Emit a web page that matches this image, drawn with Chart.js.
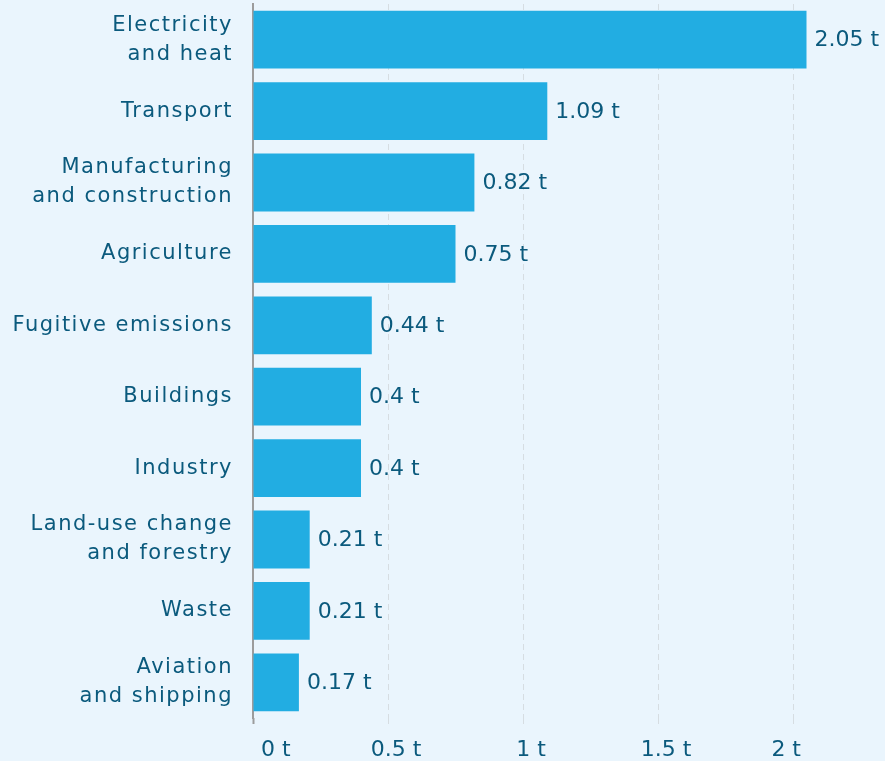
<!DOCTYPE html>
<html>
<head>
<meta charset="utf-8">
<script src="https://cdn.jsdelivr.net/npm/chart.js@4"></script>
<style>
  body { margin: 0; background: #eaf5fd; }
  #wrap { width: 885px; height: 761px; }
</style>
</head>
<body>
<div id="wrap"><canvas id="sectors"></canvas></div>
<script>
const sectors = [
    ['Electricity', 'and heat'],
    'Transport',
    ['Manufacturing', 'and construction'],
    'Agriculture',
    'Fugitive emissions',
    'Buildings',
    'Industry',
    ['Land-use change', 'and forestry'],
    'Waste',
    ['Aviation', 'and shipping']
];
const tonnes = [2.05, 1.09, 0.82, 0.75, 0.44, 0.4, 0.4, 0.21, 0.21, 0.17];
const xTicks = [0, 0.5, 1, 1.5, 2];
const xMax = 2.3;

const textColor = '#0b5a7d';
const fontFamily = "'DejaVu Sans', sans-serif";

// category axis whose labels are drawn a little wider-spaced
class SpacedCategory extends Chart.CategoryScale {
    drawLabels(area) {
        this.ctx.letterSpacing = '1.5px';
        super.drawLabels(area);
        this.ctx.letterSpacing = '0px';
    }
}
SpacedCategory.id = 'spacedCategory';
SpacedCategory.defaults = Chart.CategoryScale.defaults;
Chart.register(SpacedCategory);

// value labels just past the end of each bar
const valueLabels = {
    id: 'valueLabels',
    afterDatasetsDraw(chart) {
        const ctx = chart.ctx;
        const meta = chart.getDatasetMeta(0);
        ctx.save();
        ctx.font = '22px ' + fontFamily;
        ctx.fillStyle = textColor;
        ctx.textAlign = 'left';
        ctx.textBaseline = 'middle';
        meta.data.forEach(function (bar, i) {
            ctx.fillText(tonnes[i] + ' t', bar.x + 8, bar.y + 1);
        });
        ctx.restore();
    }
};

window.onload = function () {
    const ctx = document.getElementById('sectors').getContext('2d');
    new Chart(ctx, {
        type: 'bar',
        data: {
            labels: sectors,
            datasets: [
                {
                    data: tonnes,
                    backgroundColor: '#22ade2',
                    borderWidth: 0,
                    categoryPercentage: 1,
                    barPercentage: 0.81
                }
            ]
        },
        options: {
            indexAxis: 'y',
            responsive: true,
            maintainAspectRatio: false,
            animation: false,
            layout: {
                padding: { top: 4, right: 11, bottom: 0, left: 0 }
            },
            plugins: {
                legend: { display: false },
                tooltip: { enabled: false }
            },
            scales: {
                x: {
                    min: 0,
                    max: xMax,
                    afterBuildTicks: function (scale) {
                        scale.ticks = xTicks.concat([xMax]).map(v => ({ value: v }));
                    },
                    afterFit: function (scale) {
                        scale.height = 43;
                    },
                    grid: {
                        color: c => c.index === 0 ? 'rgba(0,0,0,0)' : '#d6dde2',
                        tickColor: c => c.index === 0 ? '#9c9c9c' : '#d6dde2',
                        tickWidth: c => c.index === 0 ? 2 : 1,
                        tickLength: 7,
                        tickBorderDash: [6, 4]
                    },
                    border: { display: false, dash: [6, 4] },
                    ticks: {
                        align: 'inner',
                        labelOffset: 8,
                        padding: 12,
                        color: textColor,
                        font: { family: fontFamily, size: 22 },
                        callback: v => xTicks.includes(v) ? v + ' t' : null
                    }
                },
                y: {
                    type: 'spacedCategory',
                    afterFit: function (scale) {
                        scale.width = 253;
                        scale.paddingTop = 0;
                        scale.paddingBottom = 0;
                    },
                    grid: { display: false, drawTicks: false },
                    border: { display: true, color: '#9c9c9c', width: 2 },
                    ticks: {
                        padding: 20,
                        color: textColor,
                        font: { family: fontFamily, size: 21, lineHeight: 1.38 }
                    }
                }
            }
        },
        plugins: [valueLabels]
    });
}
</script>
</body>
</html>
